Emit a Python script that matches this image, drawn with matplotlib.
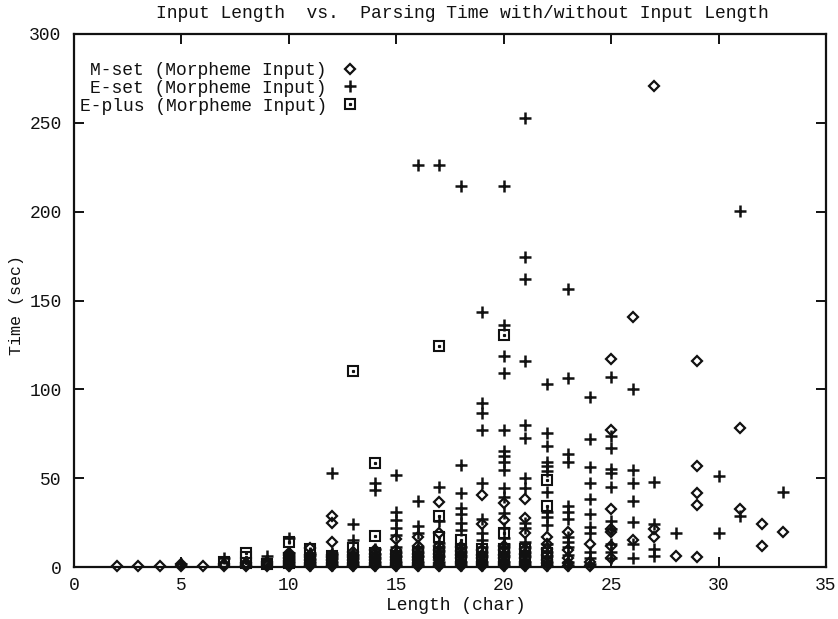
import matplotlib
matplotlib.use("Agg")
import matplotlib.pyplot as plt
from matplotlib.lines import Line2D

# ---------------- data ----------------
# M-set (Morpheme Input): diamonds
m_len = [2, 3, 4, 5, 5, 6, 7, 7, 8, 8, 8, 9, 9, 9,
         10, 10, 10, 10, 10, 10, 10,
         11, 11, 11, 11, 11, 11, 11,
         12, 12, 12, 12, 12, 12, 12, 12, 12,
         13, 13, 13, 13, 13, 13, 13,
         14, 14, 14, 14, 14, 14, 14,
         15, 15, 15, 15, 15, 15, 15, 15,
         16, 16, 16, 16, 16, 16, 16, 16, 16,
         17, 17, 17, 17, 17, 17, 17, 17, 17, 17,
         18, 18, 18, 18, 18, 18, 18,
         19, 19, 19, 19, 19, 19, 19, 19,
         20, 20, 20, 20, 20, 20, 20, 20, 20,
         21, 21, 21, 21, 21, 21, 21, 21, 21,
         22, 22, 22, 22, 22, 22, 22,
         23, 23, 23, 23, 23,
         24, 24, 24,
         25, 25, 25, 25, 25, 25, 25,
         26, 26,
         27, 27, 27,
         28,
         29, 29, 29, 29, 29,
         31, 31,
         32, 32,
         33]
m_time = [0.4, 0.4, 0.5, 0.6, 1.5, 0.8, 0.5, 1.5, 0.5, 1.2, 2.5, 0.5, 1.5, 3.0,
          0.3, 1.2, 2.5, 3.5, 5.0, 6.5, 8.0,
          0.3, 1.2, 2.5, 4.0, 5.5, 7.0, 10.5,
          0.3, 1.2, 2.5, 4.0, 5.5, 7.0, 14.2, 25.0, 28.7,
          0.3, 1.2, 2.5, 4.0, 5.5, 7.0, 8.5,
          0.3, 1.2, 2.5, 4.0, 5.5, 7.5, 9.5,
          0.3, 1.2, 2.5, 4.0, 5.5, 7.5, 9.5, 15.6,
          0.3, 1.2, 2.5, 4.0, 5.5, 7.5, 9.5, 12.0, 17.1,
          0.3, 1.2, 2.5, 4.0, 5.5, 7.5, 9.5, 12.0, 19.3, 36.7,
          0.3, 1.5, 3.0, 5.0, 7.0, 9.0, 11.0,
          0.3, 1.5, 3.0, 5.0, 7.0, 9.5, 24.2, 40.5,
          0.3, 1.5, 3.0, 5.0, 7.0, 9.5, 12.0, 26.4, 35.8,
          0.3, 1.5, 3.0, 5.0, 7.5, 10.0, 19.0, 27.4, 38.4,
          0.5, 2.0, 4.0, 7.0, 10.3, 13.0, 17.1,
          0.5, 2.0, 4.9, 9.6, 19.9,
          0.8, 3.0, 12.9,
          5.0, 12.0, 19.9, 21.2, 32.5, 77.1, 116.9,
          15.2, 140.5,
          17.1, 21.2, 271.0,
          6.2,
          5.5, 34.9, 41.5, 56.8, 116.1,
          32.5, 78.4,
          12.0, 24.0,
          19.5]

# E-set (Morpheme Input): plus signs
e_len = [5, 7, 9,
         10, 10, 10, 10, 10, 10,
         11, 11, 11, 11, 11,
         12, 12, 12, 12, 12, 12,
         13, 13, 13, 13, 13, 13,
         14, 14, 14, 14, 14, 14, 14,
         15, 15, 15, 15, 15, 15, 15, 15, 15, 15,
         16, 16, 16, 16, 16, 16, 16, 16, 16,
         17, 17, 17, 17, 17, 17, 17, 17, 17,
         18, 18, 18, 18, 18, 18, 18, 18, 18, 18, 18, 18,
         19, 19, 19, 19, 19, 19, 19, 19, 19, 19, 19, 19, 19,
         20, 20, 20, 20, 20, 20, 20, 20, 20, 20, 20, 20, 20, 20, 20, 20, 20, 20, 20, 20,
         21, 21, 21, 21, 21, 21, 21, 21, 21, 21, 21, 21, 21, 21, 21, 21,
         22, 22, 22, 22, 22, 22, 22, 22, 22, 22, 22, 22, 22, 22, 22,
         23, 23, 23, 23, 23, 23, 23, 23, 23, 23, 23, 23, 23,
         24, 24, 24, 24, 24, 24, 24, 24, 24, 24, 24,
         25, 25, 25, 25, 25, 25, 25, 25, 25, 25, 25,
         26, 26, 26, 26, 26, 26, 26,
         27, 27, 27, 27,
         28,
         30, 30,
         31, 31,
         33]
e_time = [1.5, 5.0, 6.2,
          16.2, 1.0, 3.0, 4.5, 6.0, 8.0,
          1.0, 3.0, 4.5, 6.5, 8.0,
          53.0, 1.0, 3.0, 5.0, 6.5, 8.0,
          24.0, 15.0, 1.0, 3.0, 5.0, 7.0,
          47.5, 43.3, 1.0, 3.0, 5.0, 7.5, 10.0,
          51.8, 30.9, 26.4, 22.0, 18.0, 1.0, 3.0, 6.0, 8.5, 11.0,
          226.0, 37.4, 22.9, 19.0, 1.0, 3.0, 6.0, 8.5, 11.0,
          226.5, 44.8, 26.1, 1.0, 3.0, 6.0, 9.0, 11.0, 13.5,
          214.6, 57.4, 41.5, 33.2, 29.8, 24.6, 20.8, 1.0, 3.0, 6.0, 8.5, 11.0,
          143.5, 92.3, 86.5, 77.1, 47.0, 27.0, 19.0, 15.2, 1.0, 3.0, 6.0, 8.5, 11.5,
          214.6, 136.2, 118.7, 109.3, 77.3, 65.1, 62.3, 59.3, 54.8, 44.4, 39.4,
          30.2, 21.8, 16.2, 1.0, 3.0, 6.0, 8.5, 11.0, 13.0,
          253.0, 174.6, 162.0, 116.1, 80.0, 72.6, 50.3, 44.3, 24.6, 21.8,
          1.0, 3.0, 6.0, 8.5, 11.0, 14.0,
          103.2, 75.2, 68.0, 59.3, 56.7, 54.1, 42.0, 31.1, 27.9, 23.6,
          1.0, 3.0, 6.0, 8.5, 13.0,
          156.3, 106.5, 63.7, 59.3, 34.2, 30.7, 27.0, 17.1, 14.2, 11.4, 1.0, 3.0, 7.0,
          95.6, 72.0, 56.3, 47.3, 38.5, 29.8, 22.3, 19.0, 8.6, 4.9, 1.5,
          107.1, 73.9, 66.8, 55.0, 53.1, 45.2, 26.1, 21.2, 12.9, 8.6, 4.9,
          100.2, 54.6, 47.1, 37.1, 25.2, 12.8, 4.9,
          48.0, 24.2, 10.0, 6.2,
          19.3,
          51.2, 19.3,
          200.5, 28.7,
          42.4]

# E-plus (Morpheme Input): squares with a centre dot
p_len = [7, 8, 8, 8, 9,
         10, 10, 10,
         11, 11,
         12, 12,
         13, 13, 13,
         14, 14, 14, 14,
         15, 15,
         16, 16,
         17, 17, 17, 17,
         18, 18, 18,
         19, 19,
         20, 20, 20, 20,
         21, 21,
         22, 22, 22, 22]
p_time = [3.0, 7.7, 5.5, 2.0, 1.5,
          14.0, 5.0, 2.0,
          10.3, 4.0,
          3.0, 6.0,
          110.5, 10.5, 4.0,
          58.7, 17.2, 8.0, 3.0,
          6.0, 3.0,
          8.0, 3.0,
          124.4, 28.8, 17.1, 8.0,
          15.2, 10.0, 5.0,
          10.0, 4.0,
          130.6, 19.0, 10.0, 4.0,
          10.0, 4.0,
          49.2, 34.2, 8.0, 3.0]

series_labels = ["M-set (Morpheme Input)",
                 "E-set (Morpheme Input)",
                 "E-plus (Morpheme Input)"]
title = "Input Length  vs.  Parsing Time with/without Input Length"
x_label = "Length (char)"
y_label = "Time (sec)"
x_ticks = [0, 5, 10, 15, 20, 25, 30, 35]
y_ticks = [0, 50, 100, 150, 200, 250, 300]

# ---------------- drawing ----------------
plt.rcParams['font.family'] = ['Liberation Mono', 'DejaVu Sans Mono']
W, H = 838, 619
fig = plt.figure(figsize=(W / 100, H / 100), dpi=100)
ax = fig.add_axes([74 / W, 1 - 567 / H, (826 - 74) / W, (567 - 34) / H])

ink = "#111111"
dia = dict(linestyle="none", marker="D", markersize=5.6,
           markerfacecolor="none", markeredgecolor=ink, markeredgewidth=1.6)
plus = dict(linestyle="none", marker="+", markersize=9,
            markeredgecolor=ink, markeredgewidth=1.8)
sq = dict(linestyle="none", marker="s", markersize=6.8,
          markerfacecolor="none", markeredgecolor=ink, markeredgewidth=1.5)
dot = dict(linestyle="none", marker="s", markersize=1.3,
           markerfacecolor=ink, markeredgecolor=ink)

ax.plot(m_len, m_time, clip_on=False, **dia)
ax.plot(e_len, e_time, clip_on=False, **plus)
ax.plot(p_len, p_time, clip_on=False, **sq)
ax.plot(p_len, p_time, clip_on=False, **dot)

ax.set_xlim(0, 35)
ax.set_ylim(0, 300)
ax.set_xticks(x_ticks)
ax.set_yticks(y_ticks)
ax.tick_params(direction="in", length=7, width=1.4, top=True, right=True,
               labelsize=13, colors=ink)
ax.tick_params(axis="y", pad=9)
ax.tick_params(axis="x", pad=7)
for s in ax.spines.values():
    s.set_linewidth(1.6)
    s.set_color(ink)

fig.text(456 / W, 1 - 605 / H, x_label, fontsize=13, color=ink,
         ha="center", va="center")
fig.text(17 / W, 1 - 305 / H, y_label, fontsize=12, color=ink,
         ha="center", va="center", rotation=90)
fig.text(462 / W, 1 - 13 / H, title, fontsize=13, color=ink,
         ha="center", va="center")

handles = [Line2D([], [], **dia), Line2D([], [], **plus),
           (Line2D([], [], **sq), Line2D([], [], **dot))]
leg = ax.legend(handles, series_labels, loc="upper left",
                bbox_to_anchor=(-0.002, 1 - 21 / 533), frameon=False,
                markerfirst=False, fontsize=13, handlelength=1.0,
                handletextpad=0.8, labelspacing=0.05, borderaxespad=0)
for t in leg.get_texts():
    t.set_color(ink)
leg._legend_box.align = "right"
for vp in leg._legend_handle_box.get_children():
    for child in vp.get_children():
        child.align = "right"

fig.savefig("out.png", dpi=100)
